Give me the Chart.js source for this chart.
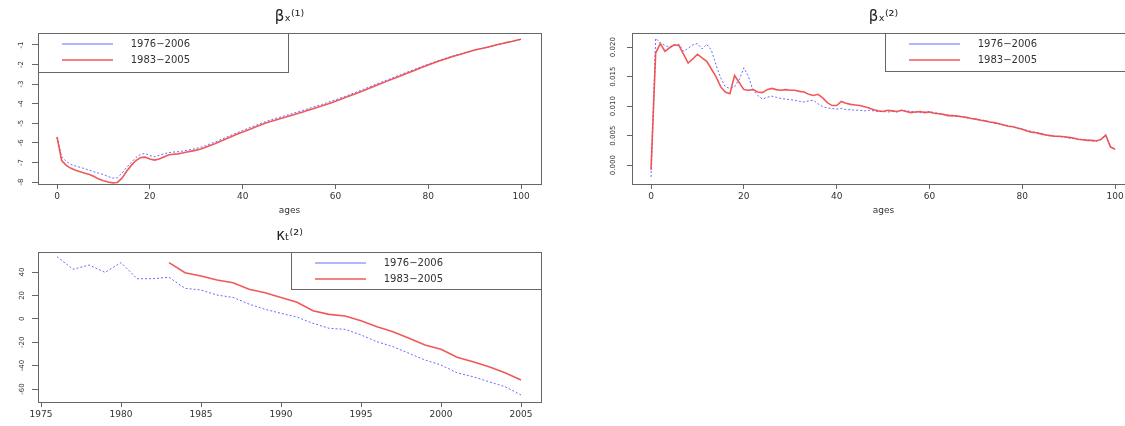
<!DOCTYPE html>
<html lang="en">
<head>
<meta charset="UTF-8">
<title>Lee-Carter estimates: beta and kappa</title>
<script src="https://cdn.jsdelivr.net/npm/chart.js"></script>
<style>
  html, body { margin: 0; padding: 0; background: #fff; overflow: hidden; }
  #wrap { position: relative; width: 1125px; height: 426px; overflow: hidden; background: #fff; }
  #wrap canvas { position: absolute; }
</style>
</head>
<body>
<div id="wrap">
  <canvas id="beta1" width="579" height="220" style="left:0px;top:0px"></canvas>
  <canvas id="beta2" width="583" height="220" style="left:592px;top:0px"></canvas>
  <canvas id="kappa2" width="579" height="208" style="left:0px;top:218px"></canvas>
</div>
<script>
// ---- data ----
const ages = Array.from({ length: 101 }, (_, i) => i);
const years7605 = [1976, 1977, 1978, 1979, 1980, 1981, 1982, 1983, 1984, 1985, 1986, 1987, 1988, 1989, 1990,
                   1991, 1992, 1993, 1994, 1995, 1996, 1997, 1998, 1999, 2000, 2001, 2002, 2003, 2004, 2005];
const years8305 = [1983, 1984, 1985, 1986, 1987, 1988, 1989, 1990, 1991, 1992, 1993, 1994,
                   1995, 1996, 1997, 1998, 1999, 2000, 2001, 2002, 2003, 2004, 2005];

const seriesNames = ['1976\u22122006', '1983\u22122005'];

// beta_x^(1), ages 0..100
const beta1Long = [
  -5.70, -6.71, -6.95, -7.10, -7.18, -7.25, -7.32, -7.40, -7.48, -7.55,
  -7.62, -7.72, -7.80, -7.78, -7.55, -7.25, -7.00, -6.75, -6.58, -6.54,
  -6.65, -6.71, -6.64, -6.56, -6.50, -6.47, -6.45, -6.42, -6.38, -6.33,
  -6.28, -6.22, -6.14, -6.05, -5.96, -5.86, -5.76, -5.66, -5.56, -5.46,
  -5.37, -5.27, -5.18, -5.09, -5.00, -4.91, -4.83, -4.76, -4.69, -4.62,
  -4.55, -4.48, -4.41, -4.34, -4.26, -4.19, -4.11, -4.04, -3.96, -3.88,
  -3.80, -3.71, -3.63, -3.54, -3.45, -3.36, -3.27, -3.17, -3.08, -2.98,
  -2.89, -2.80, -2.71, -2.61, -2.52, -2.43, -2.34, -2.25, -2.16, -2.07,
  -1.98, -1.90, -1.82, -1.74, -1.66, -1.58, -1.51, -1.45, -1.38, -1.32,
  -1.25, -1.20, -1.15, -1.10, -1.04, -0.98, -0.93, -0.88, -0.82, -0.77,
  -0.71
];
const beta1Short = [
  -5.70, -6.90, -7.15, -7.30, -7.40, -7.48, -7.55, -7.62, -7.72, -7.85,
  -7.93, -8.00, -8.04, -8.02, -7.80, -7.45, -7.15, -6.90, -6.75, -6.73,
  -6.82, -6.88, -6.82, -6.72, -6.62, -6.58, -6.56, -6.52, -6.47, -6.42,
  -6.37, -6.31, -6.22, -6.13, -6.04, -5.94, -5.84, -5.74, -5.64, -5.54,
  -5.45, -5.35, -5.26, -5.17, -5.08, -4.99, -4.91, -4.84, -4.77, -4.70,
  -4.63, -4.56, -4.49, -4.42, -4.34, -4.27, -4.19, -4.12, -4.04, -3.96,
  -3.88, -3.79, -3.70, -3.61, -3.52, -3.43, -3.34, -3.24, -3.15, -3.05,
  -2.96, -2.86, -2.77, -2.67, -2.58, -2.48, -2.39, -2.30, -2.20, -2.11,
  -2.02, -1.94, -1.85, -1.77, -1.69, -1.61, -1.54, -1.47, -1.40, -1.33,
  -1.26, -1.21, -1.16, -1.10, -1.04, -0.98, -0.93, -0.87, -0.82, -0.76,
  -0.71
];

// beta_x^(2), ages 0..100
const beta2Long = [
  -0.0020, 0.0215, 0.0207, 0.0203, 0.0200, 0.0203, 0.0205, 0.0193, 0.0198, 0.0204,
  0.0206, 0.0197, 0.0205, 0.0195, 0.0170, 0.0148, 0.0133, 0.0130, 0.0133, 0.0145,
  0.0165, 0.0150, 0.0127, 0.0118, 0.0112, 0.0115, 0.0117, 0.0115, 0.0113, 0.0112,
  0.0111, 0.0110, 0.0108, 0.0107, 0.0109, 0.0110, 0.0104, 0.0099, 0.0097, 0.0096,
  0.0095, 0.0096, 0.0094, 0.0094, 0.0093, 0.0093, 0.0092, 0.0093, 0.0092, 0.0091,
  0.0091, 0.0090, 0.0091, 0.0090, 0.0093, 0.0092, 0.0091, 0.0090, 0.0089, 0.0090,
  0.0091, 0.0089, 0.0088, 0.0086, 0.0085, 0.0083, 0.0083, 0.0082, 0.0080, 0.0079,
  0.0078, 0.0077, 0.0075, 0.0073, 0.0071, 0.0070, 0.0068, 0.0067, 0.0065, 0.0062,
  0.0061, 0.0059, 0.0057, 0.0055, 0.0054, 0.0052, 0.0050, 0.0049, 0.0048, 0.0048,
  0.0046, 0.0045, 0.0044, 0.0043, 0.0043, 0.0041, 0.0041, 0.0043, 0.0050, 0.0031,
  0.0028
];
const beta2Short = [
  -0.0008, 0.0190, 0.0206, 0.0193, 0.0199, 0.0204, 0.0203, 0.0188, 0.0173, 0.0180,
  0.0188, 0.0182, 0.0176, 0.0163, 0.0150, 0.0133, 0.0124, 0.0121, 0.0152, 0.0140,
  0.0128, 0.0127, 0.0128, 0.0124, 0.0123, 0.0128, 0.0130, 0.0128, 0.0127, 0.0128,
  0.0127, 0.0127, 0.0125, 0.0124, 0.0120, 0.0118, 0.0120, 0.0114, 0.0106, 0.0101,
  0.0101, 0.0108, 0.0105, 0.0103, 0.0102, 0.0101, 0.0099, 0.0097, 0.0094, 0.0092,
  0.0091, 0.0093, 0.0092, 0.0091, 0.0093, 0.0091, 0.0089, 0.0090, 0.0091, 0.0089,
  0.0090, 0.0088, 0.0087, 0.0086, 0.0084, 0.0084, 0.0083, 0.0082, 0.0081, 0.0079,
  0.0078, 0.0076, 0.0075, 0.0073, 0.0072, 0.0070, 0.0068, 0.0066, 0.0065, 0.0063,
  0.0061, 0.0058, 0.0056, 0.0055, 0.0053, 0.0051, 0.0050, 0.0049, 0.0049, 0.0048,
  0.0047, 0.0046, 0.0044, 0.0043, 0.0042, 0.0042, 0.0041, 0.0044, 0.0051, 0.0031,
  0.0027
];

// kappa_t^(2)
const kappa2Long = [
  53.1, 42.3, 46.0, 39.7, 48.0, 34.3, 34.3, 35.5, 26.1, 24.6,
  20.3, 18.3, 12.6, 8.1, 4.7, 1.5, -3.9, -8.1, -9.0, -13.8,
  -19.6, -23.8, -29.5, -35.2, -39.5, -46.1, -49.5, -53.8, -58.0, -65.1
];
const kappa2Short = [
  48.0, 39.4, 36.6, 33.2, 30.9, 25.2, 22.3, 18.3, 14.2, 6.9, 3.8, 2.4,
  -1.6, -6.7, -11.0, -16.7, -22.4, -26.1, -32.9, -36.7, -40.9, -46.1, -52.3
];

// tick labels
const ageTicks = [0, 20, 40, 60, 80, 100];
const beta1Ticks = [-8, -7, -6, -5, -4, -3, -2, -1];
const beta2Ticks = [0, 0.005, 0.010, 0.015, 0.020];
const yearTicks = [1975, 1980, 1985, 1990, 1995, 2000, 2005];
const kappaTicks = [-60, -40, -20, 0, 20, 40];

// ---- styling ----
const FONT = "'DejaVu Sans', 'Liberation Sans', sans-serif";
const AXIS = '#666';
const TEXT = '#333';
const BLUE = 'rgba(80, 80, 255, 0.85)';
const RED = 'rgba(240, 70, 70, 0.9)';

// R style box around the plot region plus the boxed legend
const rFrame = {
  id: 'rFrame',
  afterLayout(chart, args, opts) {
    const ca = chart.chartArea;
    const boxLeft = opts.side === 'left' ? ca.left : ca.right - opts.width;
    chart.legend.left = boxLeft + opts.inset;
    chart.legend.top = ca.top;
  },
  afterDraw(chart, args, opts) {
    const { ctx, chartArea: ca } = chart;
    const boxLeft = opts.side === 'left' ? ca.left : ca.right - opts.width;
    ctx.save();
    ctx.strokeStyle = AXIS;
    ctx.lineWidth = 1;
    ctx.strokeRect(Math.round(ca.left) + 0.5, Math.round(ca.top) + 0.5, Math.round(ca.width), Math.round(ca.height));
    ctx.strokeRect(Math.round(boxLeft) + 0.5, Math.round(ca.top) + 0.5, opts.width, opts.height);
    ctx.restore();
  }
};

function setTicks(arr) {
  return scale => { scale.ticks = arr.map(v => ({ value: v })); };
}

function makePanel(id, p) {
  return new Chart(document.getElementById(id), {
    type: 'line',
    data: {
      datasets: [
        { label: seriesNames[1], data: p.short, borderColor: RED, borderWidth: 1.6 },
        { label: seriesNames[0], data: p.long, borderColor: BLUE, borderWidth: 1, borderDash: [2, 2] }
      ]
    },
    options: {
      responsive: false,
      animation: false,
      events: [],
      layout: { padding: 0 },
      elements: { point: { radius: 0 }, line: { tension: 0, fill: false } },
      plugins: {
        title: {
          display: true, text: p.title, color: '#222',
          font: { family: FONT, size: 15, weight: 'normal' },
          padding: { top: p.titleTop, bottom: p.titleBottom }
        },
        legend: {
          position: 'chartArea', align: 'start',
          labels: {
            usePointStyle: true, pointStyle: 'line', pointStyleWidth: 51, boxHeight: 9,
            padding: 6, color: TEXT, font: { family: FONT, size: 10 },
            sort: (a, b) => b.datasetIndex - a.datasetIndex,
            generateLabels(chart) {
              const items = Chart.defaults.plugins.legend.labels.generateLabels(chart);
              items.forEach(it => { it.text = '    ' + it.text; });
              return items;
            }
          }
        },
        tooltip: { enabled: false },
        rFrame: { side: p.legendSide, width: 250, height: p.legendH, inset: 18 }
      },
      scales: {
        x: {
          type: 'linear', min: p.xMin, max: p.xMax,
          afterBuildTicks: setTicks(p.xTicks),
          afterFit: s => { s.height = p.xAxisH; },
          grid: { drawOnChartArea: false, drawTicks: true, tickLength: 5, color: AXIS },
          border: { display: false },
          ticks: { maxRotation: 0, padding: 2, color: TEXT, font: { family: FONT, size: 9 }, callback: v => String(v) },
          title: { display: !!p.xTitle, text: p.xTitle, color: TEXT, font: { family: FONT, size: 9 }, padding: { top: 0, bottom: 4 } }
        },
        y: {
          type: 'linear', position: 'left', min: p.yMin, max: p.yMax,
          afterBuildTicks: setTicks(p.yTicks),
          afterFit: s => { s.width = p.sideW; },
          grid: { drawOnChartArea: false, drawTicks: true, tickLength: p.yTickLen, color: AXIS },
          border: { display: false },
          ticks: {
            minRotation: 90, maxRotation: 90, crossAlign: 'center', padding: p.yPad,
            color: TEXT, font: { family: FONT, size: 7 }, callback: p.yFmt
          }
        },
        yr: {
          type: 'linear', position: 'right', display: true,
          afterFit: s => { s.width = p.sideW; },
          grid: { display: false }, border: { display: false }, ticks: { display: false }
        }
      }
    },
    plugins: [rFrame]
  });
}

makePanel('beta1', {
  title: '\u03b2\u2093\u207d\u00b9\u207e',
  long: ages.map((a, i) => ({ x: a, y: beta1Long[i] })),
  short: ages.map((a, i) => ({ x: a, y: beta1Short[i] })),
  xMin: -4.1, xMax: 104.3, xTicks: ageTicks, xTitle: 'ages', xAxisH: 36,
  yMin: -8.10, yMax: -0.39, yTicks: beta1Ticks, yFmt: v => String(v), yPad: 7, yTickLen: 6,
  sideW: 38, titleTop: 8, titleBottom: 7, legendSide: 'left', legendH: 39
});

makePanel('beta2', {
  title: '\u03b2\u2093\u207d\u00b2\u207e',
  long: ages.map((a, i) => ({ x: a, y: beta2Long[i] })),
  short: ages.map((a, i) => ({ x: a, y: beta2Short[i] })),
  xMin: -4.1, xMax: 104.3, xTicks: ageTicks, xTitle: 'ages', xAxisH: 36,
  yMin: -0.0032, yMax: 0.0224, yTicks: beta2Ticks, yFmt: v => v.toFixed(3), yPad: 4, yTickLen: 5,
  sideW: 40, titleTop: 8, titleBottom: 7, legendSide: 'right', legendH: 38
});

makePanel('kappa2', {
  title: '\u03ba\u209c\u207d\u00b2\u207e',
  long: years7605.map((t, i) => ({ x: t, y: kappa2Long[i] })),
  short: years8305.map((t, i) => ({ x: t, y: kappa2Short[i] })),
  xMin: 1974.81, xMax: 2006.25, xTicks: yearTicks, xTitle: '', xAxisH: 24,
  yMin: -71.1, yMax: 57.1, yTicks: kappaTicks, yFmt: v => String(v), yPad: 4, yTickLen: 6,
  sideW: 38, titleTop: 9, titleBottom: 7, legendSide: 'right', legendH: 37
});
</script>
</body>
</html>
